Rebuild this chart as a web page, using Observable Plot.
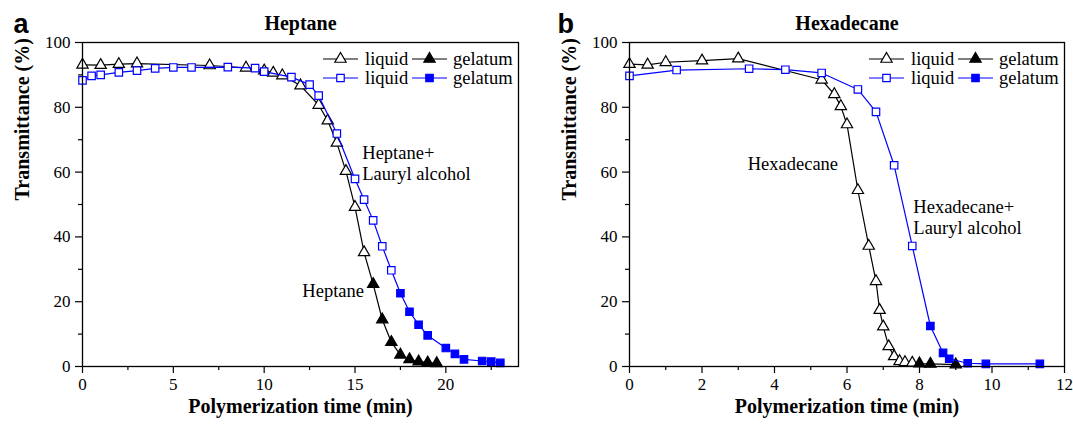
<!DOCTYPE html>
<html><head><meta charset="utf-8">
<script src="https://cdn.jsdelivr.net/npm/d3@7"></script>
<script src="https://cdn.jsdelivr.net/npm/@observablehq/plot@0.6"></script>
<style>
body{margin:0;background:#fff;}
#wrap{position:relative;width:1073px;height:426px;overflow:hidden;}
.panel{position:absolute;top:0;}
</style></head><body><div id="wrap"></div>
<script>
// ---------- data ----------
const heptaneLiquidTime = [0,1,2,3,7,9,10,10.5,11,12,13,13.5,14,14.5,15,15.5];
const heptaneLiquidT    = [93.1,93.0,93.3,93.5,92.9,92.2,91.3,90.6,89.8,86.7,80.7,75.9,69.0,60.3,49.2,35.2];
const heptaneGelTime    = [16,16.5,17,17.5,18,18.5,19,19.5];
const heptaneGelT       = [25.4,14.5,7.5,3.6,2.2,1.5,1.2,1.0];

const heptLauLiquidTime = [0,0.5,1,2,3,4,5,6,8,9.5,10,11.5,12.5,13,14,15,15.5,16,16.5,17];
const heptLauLiquidT    = [88.3,89.7,90.0,90.8,91.3,92.0,92.3,92.3,92.4,92.1,91.0,89.3,87.0,83.6,71.9,57.9,51.5,45.1,37.1,29.7];
const heptLauGelTime    = [17.5,18,18.5,19,20,20.5,21,22,22.5,23];
const heptLauGelT       = [22.6,16.9,12.9,9.6,5.7,3.9,2.2,1.7,1.5,1.1];

const hexLiquidTime = [0,0.5,1,2,3,5.3,5.65,5.83,6,6.3,6.6,6.8,6.9,7,7.15,7.3,7.45,7.6,7.8];
const hexLiquidT    = [93.3,93.1,93.9,94.4,95.0,88.5,84.0,80.3,74.7,54.4,37.2,26.3,17.4,12.3,6.2,3.1,1.6,1.3,1.1];
const hexGelTime    = [8,8.3,9];
const hexGelT       = [0.9,0.8,0.6];

const hexLauLiquidTime = [0,1.3,3.3,4.3,5.3,6.3,6.8,7.3,7.8];
const hexLauLiquidT    = [89.7,91.5,91.9,91.6,90.6,85.5,78.6,62.1,37.2];
const hexLauGelTime    = [8.3,8.65,8.82,9.33,9.83,11.32];
const hexLauGelT       = [12.5,4.2,2.4,1.0,0.8,0.8];

// ticks & labels
const yMajor = [0,20,40,60,80,100];
const yMinor = [10,30,50,70,90];
const aXMajor = [0,5,10,15,20];
const aXMinor = [2.5,7.5,12.5,17.5,22.5];
const bXMajor = [0,2,4,6,8,10,12];
const bXMinor = [1,3,5,7,9,11];
const panelLetters = ["a","b"];
const panelTitles = ["Heptane","Hexadecane"];
const xLabel = "Polymerization time (min)";
const yLabel = "Transmittance (%)";
const legendLabels = ["liquid","gelatum"];
const annotA = [
  {x:15.4, y:65.9, text:"Heptane+"},
  {x:15.4, y:59.5, text:"Lauryl alcohol"},
  {x:12.1, y:23.2, text:"Heptane"}
];
const annotB = [
  {x:3.26, y:62.5, text:"Hexadecane"},
  {x:7.83, y:49.2, text:"Hexadecane+"},
  {x:7.83, y:42.7, text:"Lauryl alcohol"}
];

const BLUE = "#0000ff";
const SERIF = "Liberation Serif";
const SANS = "Liberation Sans";
const TRI_R = 4.2, SQ_R = 4.2;

function rows(tx, ty, state){ return tx.map((x,i)=>({x, y: ty[i], state})); }

function seriesMarks(liqX, liqY, gelX, gelY, color, symbol){
  const liq = rows(liqX, liqY, "liquid");
  const gel = rows(gelX, gelY, "gelatum");
  const all = liq.concat(gel);
  return [
    Plot.line(all, {x:"x", y:"y", stroke: color, strokeWidth: 1.2}),
    Plot.dot(liq, {x:"x", y:"y", symbol, r: symbol==="triangle"?TRI_R:SQ_R, stroke: color, strokeWidth: 1.2, fill: "white"}),
    Plot.dot(gel, {x:"x", y:"y", symbol, r: symbol==="triangle"?TRI_R:SQ_R, stroke: color, strokeWidth: 1.2, fill: color})
  ];
}

function panel(opts){
  const {width, marginLeft, marginRight, xDomain, xMajor, xMinor, letter, letterDx, title, annots, series} = opts;
  const svg = Plot.plot({
    width, height: 426, marginLeft, marginRight, marginTop: 42, marginBottom: 60,
    x: {domain: xDomain}, y: {domain: [0,100]},
    style: {fontFamily: SERIF, fontSize: "17px", color: "black", background: "white", overflow: "visible"},
    marks: [
      Plot.axisX(xMajor, {tickSize: 7, tickFormat: () => "", label: null, strokeWidth: 1.2}),
      Plot.axisX(xMinor, {tickSize: 4, tickFormat: () => "", label: null, strokeWidth: 1.2}),
      Plot.axisY(yMajor, {tickSize: 7, tickFormat: () => "", label: null, strokeWidth: 1.2}),
      Plot.axisY(yMinor, {tickSize: 4, tickFormat: () => "", label: null, strokeWidth: 1.2}),
      Plot.text(xMajor, {x: d=>d, frameAnchor: "bottom", dy: 11, lineAnchor: "top", text: d=>String(d), fontFamily: SERIF, fontSize: 17, fill: "black"}),
      Plot.text(yMajor, {y: d=>d, frameAnchor: "left", dx: -12, textAnchor: "end", text: d=>String(d), fontFamily: SERIF, fontSize: 17, fill: "black"}),
      ...series,
      Plot.frame({stroke: "black", strokeWidth: 1.3}),
      Plot.text(annots, {x:"x", y:"y", text:"text", textAnchor:"start", fontSize: 18.5, fontFamily: SERIF, fill:"black"}),
      Plot.text([xLabel], {frameAnchor:"bottom", dy: 46, text: d=>d, fontWeight:"bold", fontSize: 20, fontFamily: SERIF}),
      Plot.text([yLabel], {frameAnchor:"left", dx: -60, dy: -4, rotate: -90, text: d=>d, fontWeight:"bold", fontSize: 20, fontFamily: SERIF}),
      Plot.text([title], {frameAnchor:"top", dy: -13, lineAnchor:"bottom", text: d=>d, fontWeight:"bold", fontSize: 20, fontFamily: SERIF}),
      Plot.text([letter], {frameAnchor:"top-left", dx: letterDx, dy: -10, lineAnchor:"bottom", textAnchor:"start", text: d=>d, fontFamily: SANS, fontWeight:"bold", fontSize: 27})
    ]
  });
  // legend inside frame, top-right
  const right = width - marginRight;
  const g = d3.select(svg).append("g").attr("font-family", SERIF).attr("font-size", 18.5).attr("text-anchor", "start");
  const legendRows = [{color:"black", sym: d3.symbolTriangle, r: TRI_R, y: 59},
                      {color: BLUE, sym: d3.symbolSquare, r: SQ_R, y: 78}];
  legendRows.forEach(row => {
    const cols = [{x0: right-195, x1: right-160, text: right-153, fill:"white", label: legendLabels[0]},
                  {x0: right-106, x1: right-71, text: right-65, fill: row.color, label: legendLabels[1]}];
    cols.forEach(c => {
      g.append("line").attr("x1", c.x0).attr("x2", c.x1).attr("y1", row.y).attr("y2", row.y)
        .attr("stroke", row.color).attr("stroke-width", 1.2);
      g.append("path").attr("d", d3.symbol(row.sym, Math.PI*row.r*row.r)())
        .attr("transform", `translate(${(c.x0+c.x1)/2},${row.y})`)
        .attr("stroke", row.color).attr("stroke-width", 1.2).attr("fill", c.fill);
      g.append("text").attr("x", c.text).attr("y", row.y).attr("dy", "0.32em")
        .attr("text-anchor", "start").attr("fill", "black").text(c.label);
    });
  });
  return svg;
}

const wrap = document.getElementById("wrap");
const a = panel({
  width: 537, marginLeft: 82, marginRight: 19, xDomain: [0,24], xMajor: aXMajor, xMinor: aXMinor,
  letter: panelLetters[0], letterDx: -69, title: panelTitles[0], annots: annotA,
  series: [
    ...seriesMarks(heptaneLiquidTime, heptaneLiquidT, heptaneGelTime, heptaneGelT, "black", "triangle"),
    ...seriesMarks(heptLauLiquidTime, heptLauLiquidT, heptLauGelTime, heptLauGelT, BLUE, "square")
  ]
});
const b = panel({
  width: 537, marginLeft: 93, marginRight: 9, xDomain: [0,12], xMajor: bXMajor, xMinor: bXMinor,
  letter: panelLetters[1], letterDx: -72, title: panelTitles[1], annots: annotB,
  series: [
    ...seriesMarks(hexLiquidTime, hexLiquidT, hexGelTime, hexGelT, "black", "triangle"),
    ...seriesMarks(hexLauLiquidTime, hexLauLiquidT, hexLauGelTime, hexLauGelT, BLUE, "square")
  ]
});
const da = document.createElement("div"); da.className="panel"; da.style.left="0px"; da.appendChild(a);
const db = document.createElement("div"); db.className="panel"; db.style.left="536px"; db.appendChild(b);
wrap.appendChild(da); wrap.appendChild(db);
</script></body></html>
